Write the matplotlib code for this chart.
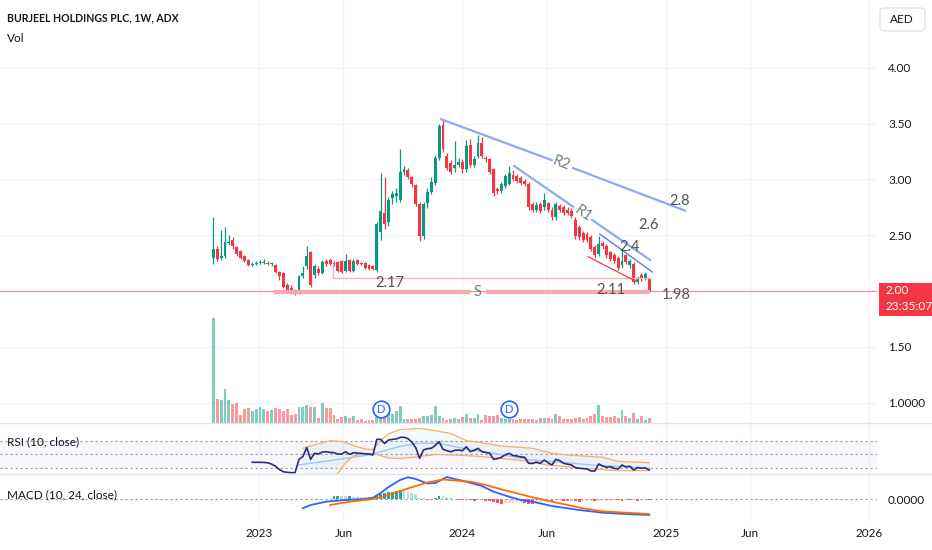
import numpy as np
import pandas as pd
import matplotlib
matplotlib.use("Agg")
import matplotlib.pyplot as plt
import matplotlib.dates as mdates
from matplotlib.colors import to_rgba
from matplotlib.lines import Line2D
from matplotlib.patches import Rectangle, FancyBboxPatch, Polygon
from matplotlib.transforms import Bbox, TransformedBbox, blended_transform_factory

plt.rcParams['font.family'] = ['Lato', 'DejaVu Sans']

# weekly bars, first trading week
first_week = "2022-10-10"

opens = [2.30, 2.38, 2.30, 2.31, 2.43, 2.46, 2.39, 2.36, 2.31, 2.28,
         2.23, 2.24, 2.25, 2.25, 2.25, 2.24, 2.23, 2.17, 2.16, 2.05,
         2.03, 2.00, 1.99, 2.13, 2.22, 2.35, 2.14, 2.20, 2.16, 2.27,
         2.28, 2.25, 2.26, 2.27, 2.18, 2.28, 2.18, 2.28, 2.25, 2.25,
         2.23, 2.22, 2.19, 2.53, 2.70, 2.62, 2.83, 2.85, 2.82, 3.07,
         3.08, 3.02, 2.95, 2.78, 2.49, 2.79, 2.89, 2.97, 3.19, 3.49,
         3.21, 3.15, 3.10, 3.13, 3.16, 3.09, 3.31, 3.13, 3.21, 3.33,
         3.19, 3.18, 3.09, 2.91, 2.90, 2.94, 2.96, 3.04, 3.03, 3.01,
         2.99, 2.96, 2.78, 2.73, 2.78, 2.75, 2.79, 2.73, 2.66, 2.76,
         2.75, 2.73, 2.72, 2.64, 2.57, 2.52, 2.51, 2.48, 2.39, 2.33,
         2.43, 2.40, 2.35, 2.32, 2.30, 2.23, 2.32, 2.23, 2.24, 2.08,
         2.14, 2.12, 2.11]
highs = [2.66, 2.40, 2.55, 2.57, 2.50, 2.48, 2.40, 2.37, 2.32, 2.29,
         2.26, 2.27, 2.28, 2.29, 2.27, 2.26, 2.24, 2.18, 2.17, 2.07,
         2.05, 2.02, 2.14, 2.22, 2.40, 2.36, 2.24, 2.22, 2.28, 2.29,
         2.30, 2.27, 2.27, 2.28, 2.33, 2.29, 2.29, 2.29, 2.26, 2.26,
         2.24, 2.23, 2.62, 3.06, 3.02, 2.84, 2.90, 2.92, 3.27, 3.12,
         3.10, 3.03, 2.96, 2.80, 2.80, 2.92, 3.02, 3.22, 3.50, 3.54,
         3.24, 3.17, 3.34, 3.19, 3.18, 3.35, 3.36, 3.21, 3.40, 3.38,
         3.21, 3.19, 3.10, 2.93, 2.98, 3.05, 3.12, 3.08, 3.05, 3.03,
         3.00, 2.98, 2.80, 2.80, 2.80, 2.88, 2.80, 2.75, 2.80, 2.78,
         2.77, 2.75, 2.74, 2.66, 2.59, 2.54, 2.53, 2.50, 2.41, 2.49,
         2.45, 2.42, 2.36, 2.34, 2.31, 2.38, 2.33, 2.29, 2.26, 2.13,
         2.16, 2.17, 2.12]
lows = [2.24, 2.27, 2.28, 2.30, 2.41, 2.38, 2.31, 2.29, 2.26, 2.22,
        2.22, 2.23, 2.24, 2.24, 2.23, 2.22, 2.16, 2.10, 2.03, 1.98,
        1.97, 1.96, 1.97, 2.12, 2.20, 2.04, 2.12, 2.14, 2.15, 2.22,
        2.23, 2.22, 2.17, 2.16, 2.17, 2.17, 2.17, 2.23, 2.23, 2.20,
        2.19, 2.19, 2.17, 2.46, 2.56, 2.58, 2.78, 2.80, 2.80, 3.04,
        3.00, 2.93, 2.76, 2.45, 2.47, 2.74, 2.87, 2.95, 3.17, 3.25,
        3.08, 3.05, 3.07, 3.11, 3.06, 3.07, 3.11, 3.11, 3.19, 3.19,
        3.16, 3.05, 2.85, 2.87, 2.88, 2.92, 2.95, 2.99, 2.97, 2.95,
        2.94, 2.73, 2.71, 2.71, 2.70, 2.73, 2.71, 2.64, 2.64, 2.71,
        2.68, 2.68, 2.65, 2.47, 2.46, 2.44, 2.44, 2.36, 2.30, 2.31,
        2.38, 2.30, 2.27, 2.25, 2.19, 2.21, 2.24, 2.21, 2.06, 2.06,
        2.09, 2.10, 1.98]
closes = [2.38, 2.29, 2.31, 2.44, 2.44, 2.40, 2.33, 2.30, 2.27, 2.23,
          2.24, 2.25, 2.25, 2.25, 2.24, 2.24, 2.17, 2.13, 2.04, 2.00,
          2.00, 1.99, 2.13, 2.16, 2.31, 2.05, 2.22, 2.16, 2.26, 2.24,
          2.24, 2.23, 2.18, 2.17, 2.27, 2.18, 2.27, 2.24, 2.24, 2.21,
          2.20, 2.20, 2.60, 2.72, 2.60, 2.82, 2.87, 2.88, 3.07, 3.09,
          3.02, 2.96, 2.78, 2.49, 2.78, 2.89, 2.98, 3.19, 3.48, 3.27,
          3.10, 3.07, 3.13, 3.16, 3.09, 3.30, 3.13, 3.18, 3.33, 3.21,
          3.18, 3.07, 2.88, 2.90, 2.96, 3.03, 3.06, 3.00, 2.99, 2.97,
          2.96, 2.75, 2.73, 2.77, 2.72, 2.82, 2.73, 2.66, 2.78, 2.73,
          2.70, 2.70, 2.67, 2.49, 2.48, 2.46, 2.46, 2.38, 2.32, 2.42,
          2.40, 2.32, 2.29, 2.27, 2.21, 2.27, 2.26, 2.27, 2.08, 2.11,
          2.11, 2.15, 2.00]
# volume in millions of shares
volume = [31.6, 7.3, 6.8, 10.3, 6.8, 5.6, 6.0, 2.3, 4.1, 4.6,
          3.5, 4.1, 4.7, 4.1, 3.5, 3.8, 4.4, 4.1, 3.5, 4.1,
          2.4, 2.8, 4.9, 4.8, 5.4, 4.9, 4.8, 1.6, 6.1, 4.4,
          4.6, 2.3, 1.3, 1.8, 2.0, 1.4, 2.0, 0.8, 1.2, 0.6,
          1.0, 0.8, 1.8, 2.2, 2.6, 2.6, 2.6, 3.6, 5.0, 1.3,
          1.2, 1.2, 1.3, 1.6, 2.0, 2.0, 2.3, 5.1, 2.0, 1.6,
          0.8, 1.3, 1.6, 1.3, 1.8, 2.8, 1.6, 1.6, 2.8, 1.0,
          2.3, 2.0, 2.0, 2.3, 1.6, 1.3, 1.3, 1.3, 1.0, 1.2,
          1.2, 1.2, 1.2, 1.0, 1.6, 1.6, 1.6, 1.3, 2.6, 2.0,
          1.2, 1.3, 1.3, 1.6, 1.8, 1.2, 1.6, 2.0, 2.6, 5.5,
          2.0, 1.8, 1.8, 2.2, 1.6, 3.8, 2.0, 1.6, 3.1, 1.3,
          2.2, 1.0, 1.6]
dividend_weeks = [43, 76]

# RSI (10, close), one value per bar from bar 10
rsi_start = 10
rsi = [38.7, 38.7, 38.7, 38.5, 38.0, 36.0, 33.0, 28.0, 25.0, 24.2,
       23.7, 23.7, 43.0, 47.0, 60.0, 43.0, 51.7, 50.7, 53.6, 54.0,
       53.0, 52.6, 50.7, 50.7, 54.0, 50.2, 52.6, 52.0, 51.7, 51.0,
       50.7, 49.3, 71.9, 72.0, 66.0, 71.0, 71.9, 72.5, 74.8, 75.0,
       73.0, 68.0, 60.0, 44.5, 56.5, 58.5, 59.0, 63.0, 68.6, 57.5,
       55.5, 54.0, 56.0, 56.5, 55.5, 61.3, 54.1, 56.0, 58.9, 54.1,
       53.0, 51.7, 43.0, 44.0, 45.9, 49.5, 51.7, 48.5, 47.8, 46.5,
       45.9, 37.2, 37.0, 39.0, 37.2, 42.0, 38.0, 34.8, 43.0, 41.1,
       37.2, 36.0, 34.8, 31.0, 30.0, 29.5, 29.0, 26.1, 26.0, 36.3,
       33.4, 31.4, 32.4, 30.0, 29.0, 34.8, 32.0, 33.0, 27.6, 31.0,
       30.0, 30.5, 27.6]
# smoothing line and bands on the RSI: (bar, value) read points
rsi_ma = [(22, 34.8), (31, 42.0), (40, 49.3), (48, 61.8), (53, 66.5), (58, 66.0),
          (65, 58.0), (72, 51.7), (81, 42.5), (89, 39.0), (97, 34.8), (106, 32.4), (112, 30.0)]
bb_upper = [(23, 59.0), (26, 64.0), (30, 70.0), (33, 69.0), (36, 63.0), (39, 58.0),
            (41, 57.0), (43, 70.0), (45, 80.0), (48, 86.0), (53, 87.8), (56, 85.4),
            (61, 80.6), (65, 70.0), (69, 67.0), (74, 62.3), (82, 59.0), (87, 51.7),
            (91, 49.3), (100, 46.0), (104, 40.0), (112, 38.2)]
bb_lower = [(23, 10.0), (30, 14.0), (32, 23.0), (34, 38.0), (36, 48.0), (40, 51.7),
            (42, 50.0), (45, 45.0), (48, 44.0), (52, 46.5), (57, 50.0), (62, 49.3),
            (69, 46.9), (78, 42.0), (86, 34.8), (95, 30.0), (104, 26.6), (112, 26.6)]

# MACD (10, 24, close): (bar, value) read points
macd_line = [(23, -0.093), (25, -0.060), (29, -0.027), (34, -0.010), (39, 0.0), (41, 0.013),
             (43, 0.060), (45, 0.120), (48, 0.190), (50, 0.217), (52, 0.200), (55, 0.155),
             (57, 0.160), (60, 0.220), (62, 0.200), (65, 0.173), (69, 0.130), (72, 0.073),
             (76, 0.023), (79, -0.010), (82, -0.027), (87, -0.070), (91, -0.093),
             (94, -0.110), (100, -0.137), (106, -0.150), (112, -0.160)]
signal_line = [(30, -0.060), (35, -0.027), (41, 0.0), (45, 0.040), (48, 0.080), (52, 0.130),
               (55, 0.165), (59, 0.195), (62, 0.185), (66, 0.173), (70, 0.140), (74, 0.097),
               (79, 0.047), (82, 0.017), (87, -0.027), (91, -0.060), (95, -0.093),
               (100, -0.123), (106, -0.137), (112, -0.150)]
hist_start = 31
hist = [0.030, 0.032, 0.028, 0.026, 0.030, 0.025, 0.023, 0.020, 0.018, 0.016,
        0.012, 0.030, 0.050, 0.060, 0.068, 0.075, 0.082, 0.088, 0.080, 0.072,
        0.065, 0.048, 0.015, 0.008, -0.006, -0.008, 0.010, 0.035, 0.030, 0.018,
        0.010, 0.003, -0.005, -0.010, -0.008, -0.010, -0.015, -0.012, -0.013, -0.018,
        -0.022, -0.030, -0.042, -0.045, -0.040, -0.038, -0.035, -0.032, -0.030, -0.036,
        -0.045, -0.050, -0.035, -0.025, -0.020, -0.015, -0.030, -0.012, -0.008, -0.015,
        -0.018, -0.015, -0.020, -0.025, -0.022, -0.018, -0.015, -0.020, -0.018, -0.008,
        -0.010, -0.013, -0.010, -0.012, -0.015, -0.008, -0.010, -0.008, -0.015, -0.012,
        -0.010, -0.012]

# user drawings: (bar, price)
r2_segments = [[(58.5, 3.54), (87.0, 3.172)], [(92.4, 3.102), (121.2, 2.72)]]
r1_segments = [[(77.3, 3.12), (92.4, 2.756)], [(97.3, 2.637), (112.2, 2.278)]]
channel_top = [(99.3, 2.51), (112.8, 2.17)]
channel_bottom = [(96.3, 2.307), (108.8, 2.083)]
support_segments = [[(15.6, 1.994), (66.0, 1.994)], [(70.0, 1.994), (112.2, 1.994)]]
level_217 = [(30.8, 2.24), (30.8, 2.114), (112.2, 2.114)]
level_texts = [("2.17", 45.4, 2.072), ("2.11", 102.0, 2.009), ("1.98", 119.0, 1.964),
               ("2.8", 119.9, 2.806), ("2.6", 111.7, 2.591), ("2.4", 107.0, 2.394)]
line_names = [("R2", 89.4, 3.14, -20.5), ("R1", 94.9, 2.695, -34.7), ("S", 67.9, 1.994, 0)]

price_ticks = [1.0, 1.5, 2.0, 2.5, 3.0, 3.5, 4.0]
price_labels = ["1.0000", "1.50", "", "2.50", "3.00", "3.50", "4.00"]
time_ticks = ["2023-01-01", "2023-06-01", "2024-01-01", "2024-06-01",
              "2025-01-01", "2025-06-01", "2026-01-01"]
time_labels = ["2023", "Jun", "2024", "Jun", "2025", "Jun", "2026"]

GREEN = '#089981'
RED = '#F23645'
TXT = '#131722'

W, H = 932, 550


def rect(l, t, r, b):
    return [l / W, 1 - b / H, (r - l) / W, (b - t) / H]


x0 = mdates.date2num(pd.Timestamp(first_week))


def wx(b):
    return x0 + 7 * np.asarray(b, dtype=float)


o = np.array(opens); h = np.array(highs); lo = np.array(lows); c = np.array(closes)
xs = wx(np.arange(len(c)))
up = c >= o

fig = plt.figure(figsize=(W / 100, H / 100), dpi=100)
ax = fig.add_axes(rect(0, 0, 877, 423))
ax_vol = fig.add_axes(rect(0, 0, 877, 423), sharex=ax)
ax_rsi = fig.add_axes(rect(0, 423, 877, 474), sharex=ax)
ax_macd = fig.add_axes(rect(0, 474, 877, 522), sharex=ax)

for a in (ax, ax_vol, ax_rsi, ax_macd):
    for s in a.spines.values():
        s.set_visible(False)
    a.tick_params(length=0, labelsize=8.5, labelcolor=TXT)
    a.set_axisbelow(True)

ax.set_xlim(wx(-54.8), wx(170.5))
tick_x = mdates.date2num(pd.to_datetime(time_ticks))
ax.set_xticks(tick_x, time_labels)

#####    price pane
ax.set_ylim(0.817, 4.608)
ax.yaxis.tick_right()
ax.set_yticks(price_ticks, price_labels)
ax.tick_params(axis='y', pad=8)
ax.grid(True, color='#F0F3FA', lw=0.9)
ax.tick_params(axis='x', labelbottom=False)

cols = np.where(up, GREEN, RED)
ax.vlines(xs, lo, h, colors=cols, lw=0.9)
ax.bar(xs, np.maximum(np.abs(c - o), 0.008), bottom=np.minimum(o, c),
       width=5.2, color=cols, lw=0)

ax.axhline(c[-1], color=RED, lw=0.8, alpha=0.55)

for seg in support_segments:
    ax.plot(wx([p[0] for p in seg]), [p[1] for p in seg], color='#F7A9AC', lw=3,
            solid_capstyle='butt')
ax.plot(wx([p[0] for p in level_217]), [p[1] for p in level_217], color='#F7B3B5', lw=1)
for seg in r2_segments + r1_segments:
    ax.plot(wx([p[0] for p in seg]), [p[1] for p in seg], color='#8FA8F2', lw=1.6)
ax.plot(wx([p[0] for p in channel_top]), [p[1] for p in channel_top], color='#5C7BEA', lw=1)
ax.plot(wx([p[0] for p in channel_bottom]), [p[1] for p in channel_bottom], color=RED, lw=0.9)

for txt, b, p in level_texts:
    ax.text(wx(b), p, txt, ha='center', va='center', fontsize=10.5, color='#50535E')
for txt, b, p, rot in line_names:
    ax.text(wx(b), p, txt, ha='center', va='center', fontsize=10.5, color='#787B86',
            rotation=rot, rotation_mode='anchor')

#####    volume overlay
ax_vol.set_facecolor('none')
ax_vol.set_ylim(0, 127.4)
ax_vol.axis('off')
vcols = [to_rgba(GREEN, 0.5) if u else to_rgba(RED, 0.5) for u in up]
ax_vol.bar(xs, volume, width=5.2, color=vcols, lw=0)
trans = blended_transform_factory(ax_vol.transData, ax_vol.transAxes)
for b in dividend_weeks:
    ax_vol.plot(wx(b), 0.033, 'o', ms=12, mfc='white', mec='#2962FF', mew=1.2,
                transform=trans, zorder=5)
    ax_vol.text(wx(b), 0.031, 'D', ha='center', va='center', fontsize=8,
                color='#2962FF', transform=trans, zorder=6)

#####    RSI pane
ax_rsi.set_ylim(21.74, 95.65)
ax_rsi.set_yticks([])
ax_rsi.grid(True, axis='x', color='#F0F3FA', lw=0.9)
ax_rsi.tick_params(axis='x', labelbottom=False)
ax_rsi.axhspan(30, 70, color='#7E57C2', alpha=0.05, lw=0)
for lvl in (70, 50, 30):
    ax_rsi.axhline(lvl, color='#9598A1', lw=0.8, ls=(0, (2, 2.5)))
band = [(wx(b), v) for b, v in bb_upper] + [(wx(b), v) for b, v in reversed(bb_lower)]
ax_rsi.add_patch(Polygon(band, closed=True, color='#4DB6AC', alpha=0.07, lw=0))
ax_rsi.plot(wx([p[0] for p in bb_upper]), [p[1] for p in bb_upper], color='#F5AE6E', lw=0.9)
ax_rsi.plot(wx([p[0] for p in bb_lower]), [p[1] for p in bb_lower], color='#F5AE6E', lw=0.9)
ax_rsi.plot(wx([p[0] for p in rsi_ma]), [p[1] for p in rsi_ma], color='#9CC7F5', lw=1)
ax_rsi.plot(xs[rsi_start:rsi_start + len(rsi)], rsi, color='#2E2A7E', lw=1.2)

#####    MACD pane
ax_macd.set_ylim(-0.23, 0.25)
ax_macd.yaxis.tick_right()
ax_macd.set_yticks([0.0], ['0.0000'])
ax_macd.tick_params(axis='y', pad=8)
ax_macd.tick_params(axis='x', pad=4.5)
ax_macd.grid(True, axis='x', color='#F0F3FA', lw=0.9)
ax_macd.axhline(0, color='#9598A1', lw=0.8, ls=(0, (2, 2.5)))
hcols = []
prev = 0.0
for v in hist:
    if v >= 0:
        hcols.append('#26A69A' if v > prev else '#B2DFDB')
    else:
        hcols.append('#FF5252' if v < prev else '#FFCDD2')
    prev = v
ax_macd.bar(xs[hist_start:hist_start + len(hist)], hist, width=5, color=hcols, lw=0)
ax_macd.plot(wx([p[0] for p in macd_line]), [p[1] for p in macd_line], color='#2962FF', lw=1.3)
ax_macd.plot(wx([p[0] for p in signal_line]), [p[1] for p in signal_line], color='#FF6D00', lw=1.3)

#####    frame, labels and price tag
for yy in (423, 474):
    fig.add_artist(Line2D([0, 1], [1 - yy / H] * 2, transform=fig.transFigure,
                          color='#E0E3EB', lw=1))

fig.text(7 / W, 1 - 18 / H, "BURJEEL HOLDINGS PLC, 1W, ADX", fontsize=7.6, weight='bold',
         color=TXT, va='center')
fig.text(7 / W, 1 - 38 / H, "Vol", fontsize=8.5, color=TXT, va='center')
fig.text(7 / W, 1 - 442 / H, "RSI (10, close)", fontsize=8.5, color=TXT, va='center')
fig.text(7 / W, 1 - 495 / H, "MACD (10, 24, close)", fontsize=8.5, color=TXT, va='center')

t100 = fig.text(885 / W, 1 - 421 / H, "100.00", fontsize=8.5, color=TXT, va='center')
t100.set_clip_box(TransformedBbox(Bbox([[877 / W, 1 - 474 / H], [1, 1 - 424 / H]]),
                                  fig.transFigure))
t100.set_clip_on(True)

fig.patches.append(FancyBboxPatch((880 / W, 1 - 31 / H), 45 / W, 23 / H,
                                  boxstyle="round,pad=0,rounding_size=0.006",
                                  transform=fig.transFigure, facecolor='white',
                                  edgecolor='#E0E3EB', lw=1))
fig.text(902 / W, 1 - 19.5 / H, "AED", fontsize=8.5, color=TXT, ha='center', va='center')

fig.patches.append(Rectangle((879 / W, 1 - 316 / H), 53 / W, 33 / H,
                             transform=fig.transFigure, color=RED, lw=0))
fig.text(885 / W, 1 - 291 / H, f"{c[-1]:.2f}", fontsize=8.5, color='white', va='center')
fig.text(885 / W, 1 - 307 / H, "23:35:07", fontsize=8.5, color='white', va='center')

fig.savefig("out.png", dpi=100)
